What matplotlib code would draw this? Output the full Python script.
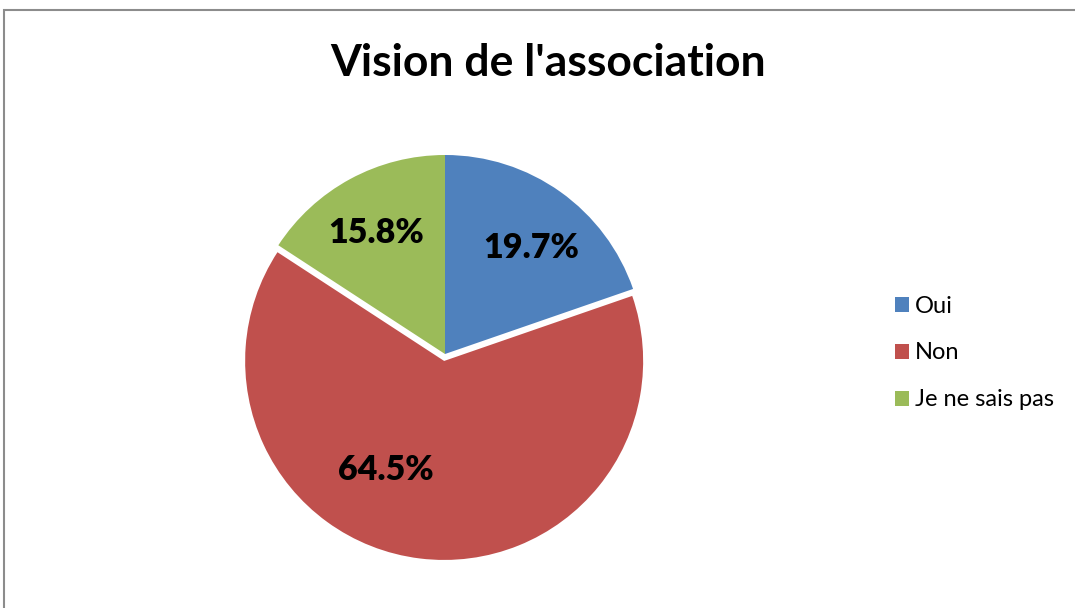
import matplotlib
matplotlib.use("Agg")
import matplotlib.pyplot as plt
from matplotlib.patches import Rectangle, Patch

title = "Vision de l'association"
categories = ["Oui", "Non", "Je ne sais pas"]
values = [19.7, 64.5, 15.8]
colors = ["#4F81BD", "#C0504D", "#9BBB59"]

plt.rcParams['font.family'] = ['Lato', 'DejaVu Sans']

W, H = 1075, 608
fig = plt.figure(figsize=(W / 100, H / 100), dpi=100)
fig.patch.set_facecolor("white")

# outer chart frame
fig.patches.append(Rectangle((4 / W, -0.05), 1.2, 1 - 10 / H + 0.05,
                             transform=fig.transFigure, fill=False,
                             edgecolor="#8c8c8c", linewidth=1.5))

ax = fig.add_axes([0, 0, 1, 1])

cx, cy, r = 445, H - 354, 199
explode = [0, 7, 0]  # data units (pixels)
wedges, texts, autotexts = ax.pie(
    values, colors=colors, explode=explode, startangle=90, counterclock=False,
    center=(cx, cy), radius=r, autopct="%.1f%%", pctdistance=0.69,
    wedgeprops=dict(linewidth=0), frame=False)

# label placement (Excel-like best fit), pixel offsets from the pie centre
label_offsets = [(86, 106), (-59, -116), (-69, 121)]
for t, (dx, dy) in zip(autotexts, label_offsets):
    t.set_position((cx + dx, cy + dy))
    t.set_fontsize(24.5)
    t.set_fontweight("heavy")
    t.set_color("black")

ax.set_xlim(0, W)
ax.set_ylim(0, H)
ax.axis("off")

fig.text(548 / W, 1 - 63 / H, title, ha="center", va="center",
         fontsize=32, fontweight="bold")

handles = [Patch(facecolor=c, edgecolor="none") for c in colors]
leg = ax.legend(handles, categories, loc="center left",
                bbox_to_anchor=(895 / W, 1 - 353 / H), frameon=False,
                fontsize=17, handlelength=0.6, handleheight=0.6,
                handletextpad=0.25, labelspacing=1.1, borderpad=0,
                borderaxespad=0)

fig.savefig("out.png", dpi=100, facecolor="white")
